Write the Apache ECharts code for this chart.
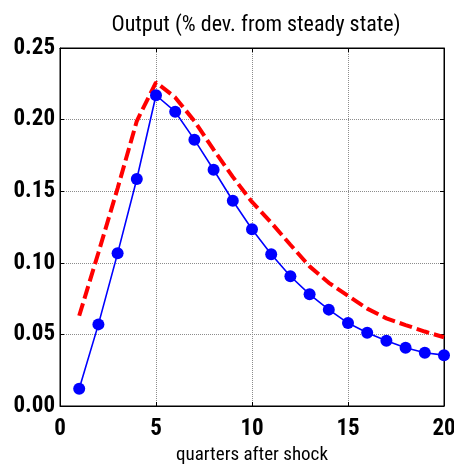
<!DOCTYPE html>
<html>
<head>
<meta charset="utf-8">
<script src="https://cdn.jsdelivr.net/npm/echarts@6/dist/echarts.min.js"></script>
<style>
  html, body { margin: 0; padding: 0; background: #fff; }
  #chart { width: 454px; height: 468px; }
</style>
</head>
<body>
<div id="chart"></div>
<script>
// data
var quarters = [1, 2, 3, 4, 5, 6, 7, 8, 9, 10, 11, 12, 13, 14, 15, 16, 17, 18, 19, 20];
var modelValues = [0.012, 0.057, 0.1066, 0.1585, 0.217, 0.2055, 0.186, 0.165, 0.1433, 0.1234,
                   0.106, 0.0906, 0.078, 0.0673, 0.0579, 0.0512, 0.0456, 0.0407, 0.0372, 0.0355];
var dashedValues = [0.063, 0.107, 0.152, 0.199, 0.226, 0.2155, 0.199, 0.179, 0.160, 0.1425,
                    0.128, 0.1126, 0.0975, 0.086, 0.077, 0.068, 0.0612, 0.0565, 0.052, 0.048];
var xTicks = [0, 5, 10, 15, 20];
var yTicks = [0, 0.05, 0.10, 0.15, 0.20, 0.25];

var narrow = "'Roboto Condensed', 'Liberation Sans Narrow', sans-serif";

function pairs(xs, ys) {
    return xs.map(function (x, i) { return [x, ys[i]]; });
}

var myChart = echarts.init(document.getElementById('chart'));

var gridLine = { show: true, lineStyle: { color: '#8c8c8c', type: [1, 1], width: 1 } };
var tickIn = { show: true, inside: true, length: 4, lineStyle: { color: '#000' } };
var boxLine = { show: true, onZero: false, lineStyle: { color: '#000', width: 1 } };

var option = {
    animation: false,
    backgroundColor: '#fff',
    title: {
        text: 'Output (% dev. from steady state)',
        left: 251,
        top: 9,
        textAlign: 'center',
        textStyle: { fontFamily: narrow, fontSize: 22, fontWeight: 'normal', color: '#000' }
    },
    grid: {
        left: 60, right: 10, top: 48, bottom: 62, outerBoundsMode: 'none',
        show: true, borderColor: '#000', borderWidth: 1, backgroundColor: 'transparent'
    },
    xAxis: [
        {
            type: 'value',
            min: xTicks[0],
            max: xTicks[xTicks.length - 1],
            interval: 5,
            name: 'quarters after shock',
            nameLocation: 'middle',
            nameGap: 39,
            nameTextStyle: { fontFamily: narrow, fontSize: 19, color: '#000' },
            axisLine: boxLine,
            axisTick: tickIn,
            axisLabel: { fontFamily: narrow, fontSize: 23, fontWeight: 'bold', color: '#000', margin: 12 },
            splitLine: gridLine
        },
        {
            type: 'value',
            position: 'top',
            min: xTicks[0],
            max: xTicks[xTicks.length - 1],
            interval: 5,
            axisLine: boxLine,
            axisTick: tickIn,
            axisLabel: { show: false },
            splitLine: { show: false }
        }
    ],
    yAxis: [
        {
            type: 'value',
            min: yTicks[0],
            max: yTicks[yTicks.length - 1],
            interval: 0.05,
            axisLine: boxLine,
            axisTick: tickIn,
            axisLabel: {
                fontFamily: narrow, fontSize: 23, fontWeight: 'bold', color: '#000', margin: 5,
                formatter: function (v) { return v.toFixed(2); }
            },
            splitLine: gridLine
        },
        {
            type: 'value',
            position: 'right',
            min: yTicks[0],
            max: yTicks[yTicks.length - 1],
            interval: 0.05,
            axisLine: boxLine,
            axisTick: tickIn,
            axisLabel: { show: false },
            splitLine: { show: false }
        }
    ],
    series: [
        {
            name: 'dashed',
            type: 'line',
            xAxisIndex: 0,
            yAxisIndex: 0,
            data: pairs(quarters, dashedValues),
            showSymbol: false,
            symbol: 'none',
            lineStyle: { color: '#ff0000', width: 4, type: [13, 5] },
            z: 3
        },
        {
            name: 'model',
            type: 'line',
            xAxisIndex: 0,
            yAxisIndex: 0,
            data: pairs(quarters, modelValues),
            symbol: 'circle',
            symbolSize: 12,
            itemStyle: { color: '#0000ff' },
            lineStyle: { color: '#0000ff', width: 1.6 },
            z: 4
        }
    ]
};

myChart.setOption(option);
</script>
</body>
</html>
